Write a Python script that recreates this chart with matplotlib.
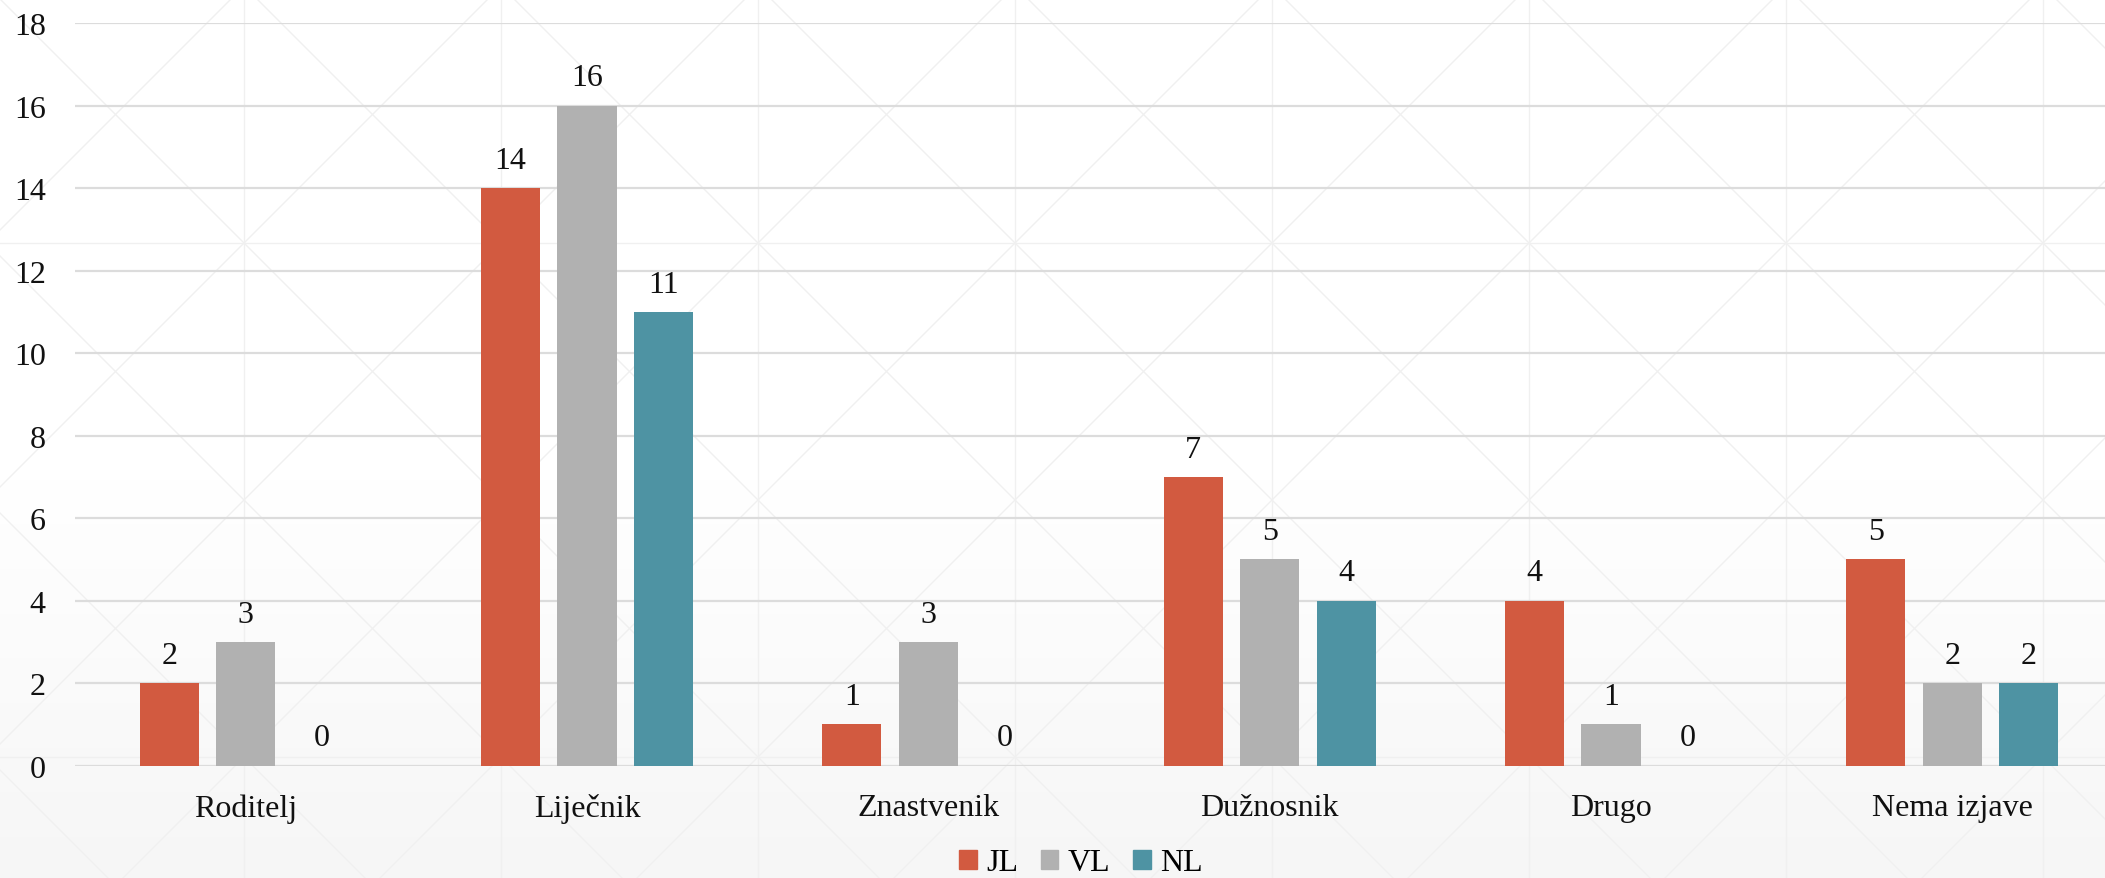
import numpy as np
import matplotlib
matplotlib.use("Agg")
from matplotlib import pyplot as plt
from matplotlib.patches import Patch

plt.rcParams['font.family'] = ['Liberation Serif', 'DejaVu Serif']

# data
categories = ['Roditelj', 'Liječnik', 'Znastvenik', 'Dužnosnik', 'Drugo', 'Nema izjave']
series_names = ['JL', 'VL', 'NL']
jl = [2, 14, 1, 7, 4, 5]
vl = [3, 16, 3, 5, 1, 2]
nl = [0, 11, 0, 4, 0, 2]
y_ticks = [0, 2, 4, 6, 8, 10, 12, 14, 16, 18]

colors = ['#D25A40', '#B1B1B1', '#4E93A3']
fs = 23

W, H = 2105, 879
fig = plt.figure(figsize=(W / 100, H / 100), dpi=100)

# background: white top, light grey gradient at the bottom, faint lattice
bg = fig.add_axes([0, 0, 1, 1], zorder=-10)
bg.set_xlim(0, W)
bg.set_ylim(H, 0)
bg.axis('off')
yy = np.arange(H)
grad = np.where(yy < 480, 1.0, 1.0 - 0.035 * (yy - 480) / (H - 480))[:, None]
bg.imshow(np.dstack([grad, grad, grad]), extent=[0, W, H, 0], aspect='auto', vmin=0, vmax=1)
step = 257
lc = '#f0f0f0'
for x0 in np.arange(244 - step * 4, W + step, step):
    bg.plot([x0, x0], [0, H], color=lc, lw=1)
for y0 in [244, 244 + 2 * step]:
    bg.plot([0, W], [y0, y0], color=lc, lw=1)
for c in np.arange(-step * 6, W + H + step, step):
    bg.plot([c, c + H], [0, H], color=lc, lw=1)          # x - y = c
for c in np.arange(231 - step * 2, W + H + step * 2, step):
    bg.plot([c, c - H], [0, H], color=lc, lw=1)          # x + y = c

# main chart (right edge runs a little past the picture, as in the original crop)
ax = fig.add_axes([75 / W, 1 - 766.6 / H, 2048 / W, (766.6 - 24.2) / H])
ax.set_facecolor('none')

x = np.arange(len(categories))
bw = 0.173
offs = 0.224
for i, (name, vals) in enumerate(zip(series_names, [jl, vl, nl])):
    pos = x + (i - 1) * offs
    ax.bar(pos, vals, width=bw, color=colors[i], zorder=3, label=name)
    for px, v in zip(pos, vals):
        ax.annotate(str(v), (px, v), xytext=(0, 20), textcoords='offset points',
                    ha='center', va='center', fontsize=fs, color='#111111')

ax.set_xlim(-0.5, len(categories) - 0.5)
ax.set_ylim(0, 18)
ax.set_yticks(y_ticks)
ax.set_xticks(x)
ax.set_xticklabels(categories)
ax.tick_params(axis='both', length=0, labelsize=fs, colors='#111111')
ax.tick_params(axis='x', pad=20)
ax.tick_params(axis='y', pad=21)
ax.grid(axis='y', color='#dcdcdc', lw=1.6, zorder=0)
for s in ax.spines.values():
    s.set_visible(False)

handles = [Patch(color=c) for c in colors]
fig.legend(handles, series_names, loc='center', bbox_to_anchor=(1081 / W, 1 - 864 / H),
           ncol=3, frameon=False, fontsize=fs, handlelength=0.55, handleheight=0.55,
           handletextpad=0.3, columnspacing=0.7, borderpad=0)

fig.savefig('out.png', dpi=100)
